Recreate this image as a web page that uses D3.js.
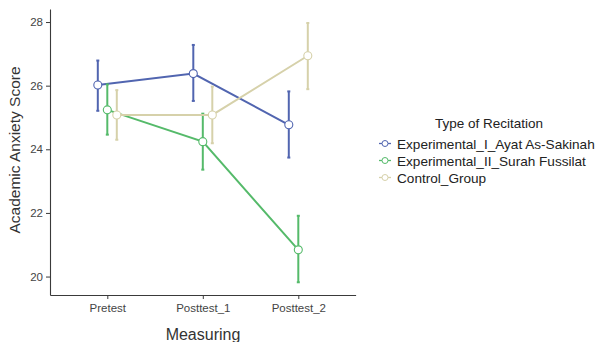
<!DOCTYPE html>
<html lang="en">
<head>
  <meta charset="UTF-8">
  <title>Academic Anxiety</title>
  <style>
    body { margin: 0; background: #fff; }
    text { font-family: "Liberation Sans", Arial, sans-serif; }
  </style>
</head>
<body>
  <script src="https://d3js.org/d3.v7.min.js"></script>
  <script>
    const measures = ['Pretest', 'Posttest_1', 'Posttest_2'];
    const groups = ['Experimental_I_Ayat As-Sakinah', 'Experimental_II_Surah Fussilat', 'Control_Group'];
    const colors = ['#5165b0', '#55ba6a', '#d6d1aa'];
    // mean, lower, upper per group
    const meanI = [26.02, 26.38, 24.77];
    const lowI = [25.21, 25.52, 23.74];
    const highI = [26.79, 27.28, 25.82];
    const meanII = [25.24, 24.24, 20.84];
    const lowII = [24.46, 23.36, 19.82];
    const highII = [26.04, 25.12, 21.91];
    const meanC = [25.08, 25.08, 26.94];
    const lowC = [24.30, 24.19, 25.89];
    const highC = [25.86, 25.97, 27.97];
    const yTicks = [20, 22, 24, 26, 28];

    const series = [
      { mean: meanI, low: lowI, high: highI },
      { mean: meanII, low: lowII, high: highII },
      { mean: meanC, low: lowC, high: highC }
    ];

    const [width, height] = [598, 342];

    const svg = d3.select('body').append('svg').attr('width', width).attr('height', height);

    // scales
    const xScale = d3.scalePoint()
      .domain(measures)
      .range([50, 355.6])
      .padding(0.6);
    const yScale = d3.scaleLinear()
      .domain([19.42, 28.41])
      .range([295, 9]);
    const dodge = [-9.5, 0, 9.5];

    // axes
    const axisColor = '#3a3a3a';
    const xAxis = svg.append('g')
      .attr('transform', 'translate(0,295)')
      .call(d3.axisBottom(xScale).tickSize(4).tickSizeOuter(0).tickPadding(5));
    const yAxis = svg.append('g')
      .attr('transform', 'translate(50,0)')
      .call(d3.axisLeft(yScale).tickValues(yTicks).tickSize(4).tickSizeOuter(0).tickPadding(3));
    [xAxis, yAxis].forEach(g => {
      g.select('.domain').attr('stroke', axisColor).attr('stroke-width', 1.1);
      g.selectAll('.tick line').attr('stroke', axisColor);
      g.selectAll('.tick text').attr('fill', '#444').attr('font-size', 11.5)
        .attr('font-family', '"Liberation Sans", Arial, sans-serif');
    });

    svg.append('text')
      .attr('transform', 'translate(20,150) rotate(-90)')
      .attr('text-anchor', 'middle')
      .attr('font-size', 15.5)
      .attr('fill', '#333')
      .text('Academic Anxiety Score');
    svg.append('text')
      .attr('x', 203).attr('y', 340)
      .attr('text-anchor', 'middle')
      .attr('font-size', 16)
      .attr('fill', '#333')
      .text('Measuring');

    // lines, error bars, points
    const line = d3.line();
    series.forEach((s, gi) => {
      const g = svg.append('g');
      const px = i => xScale(measures[i]) + dodge[gi];
      g.append('path')
        .attr('d', line(s.mean.map((m, i) => [px(i), yScale(m)])))
        .attr('fill', 'none')
        .attr('stroke', colors[gi])
        .attr('stroke-width', 2);
      measures.forEach((m, i) => {
        const x = px(i);
        g.append('line')
          .attr('x1', x).attr('x2', x)
          .attr('y1', yScale(s.low[i])).attr('y2', yScale(s.high[i]))
          .attr('stroke', colors[gi]).attr('stroke-width', 2);
        [s.low[i], s.high[i]].forEach(v => {
          g.append('line')
            .attr('x1', x - 1.5).attr('x2', x + 1.5)
            .attr('y1', yScale(v)).attr('y2', yScale(v))
            .attr('stroke', colors[gi]).attr('stroke-width', 2);
        });
      });
      g.selectAll('circle')
        .data(s.mean)
        .enter()
        .append('circle')
        .attr('cx', (d, i) => px(i))
        .attr('cy', d => yScale(d))
        .attr('r', 4)
        .attr('fill', '#fff')
        .attr('stroke', colors[gi])
        .attr('stroke-width', 1.1);
    });

    // legend
    const legend = svg.append('g');
    legend.append('text')
      .attr('x', 489).attr('y', 128)
      .attr('text-anchor', 'middle')
      .attr('font-size', 13.5)
      .attr('fill', '#222')
      .text('Type of Recitation');
    groups.forEach((name, i) => {
      const y = 143.5 + i * 17;
      legend.append('line')
        .attr('x1', 379).attr('x2', 391)
        .attr('y1', y).attr('y2', y)
        .attr('stroke', colors[i]).attr('stroke-width', 1.3);
      legend.append('circle')
        .attr('cx', 385).attr('cy', y).attr('r', 3)
        .attr('fill', '#fff').attr('stroke', colors[i]).attr('stroke-width', 1);
      legend.append('text')
        .attr('x', 397).attr('y', y + 5)
        .attr('font-size', 13.6)
        .attr('fill', '#222')
        .text(name);
    });
  </script>
</body>
</html>
